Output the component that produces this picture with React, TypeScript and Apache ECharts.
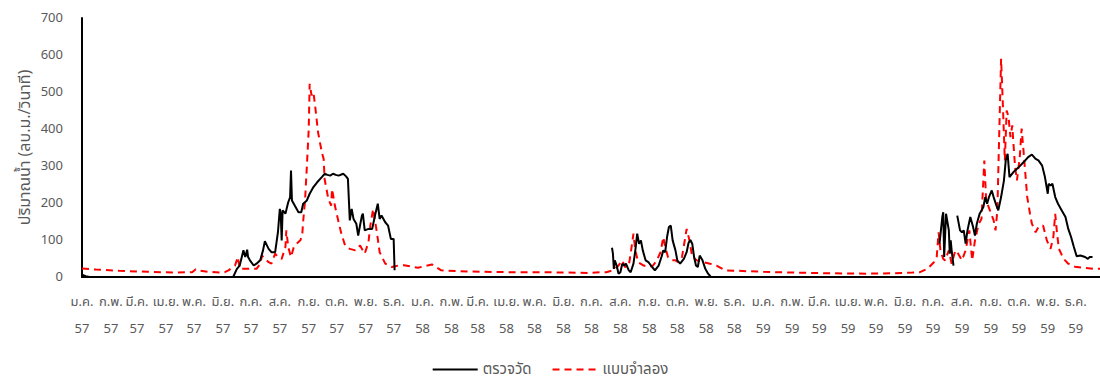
import React, { useEffect, useRef } from "react";
import * as echarts from "echarts";

const thaiMonths = ["ม.ค.", "ก.พ.", "มี.ค.", "เม.ย.", "พ.ค.", "มิ.ย.", "ก.ค.", "ส.ค.", "ก.ย.", "ต.ค.", "พ.ย.", "ธ.ค."];
const yearLabels = ["57", "58", "59"];
const monthLengths57 = [31, 28, 31, 30, 31, 30, 31, 31, 30, 31, 30, 31];
const monthLengths58 = [31, 28, 31, 30, 31, 30, 31, 31, 30, 31, 30, 31];
const monthLengths59 = [31, 29, 31, 30, 31, 30, 31, 31, 30, 31, 30, 31];
const yTicks = [0, 100, 200, 300, 400, 500, 600, 700];

const seriesNames = ["ตรวจวัด", "แบบจำลอง"];
const yAxisName = "ปริมาณน้ำ (ลบ.ม./วินาที)";

// observed flow [day index from 1 Jan 2557, m3/s]
const obsStart57: [number, number][] = [[0, 6], [4, 2], [8, 0]];
const obs57: [number, number][] = [
  [162, 0], [166, 22], [169, 31], [173, 72], [175, 54], [177, 74], [178, 54], [180, 45], [184, 31],
  [187, 36], [191, 45], [194, 72], [196, 97], [200, 76], [203, 67], [207, 67], [210, 121], [212, 184],
  [213, 170], [214, 99], [215, 180], [218, 171], [221, 202], [223, 215], [224, 288], [225, 207],
  [228, 193], [232, 175], [235, 175], [237, 198], [241, 207], [244, 225], [248, 243], [252, 256],
  [257, 270], [260, 279], [263, 276], [266, 274], [269, 279], [272, 276], [275, 274], [278, 277],
  [280, 279], [283, 272], [285, 265], [287, 153], [289, 184], [291, 157], [294, 144], [296, 112],
  [298, 140], [300, 166], [301, 171], [303, 126], [307, 130], [311, 130], [314, 166], [317, 198],
  [319, 157], [321, 166], [325, 148], [328, 139], [331, 103], [334, 103], [335, 18],
];
const obs58: [number, number][] = [
  [568, 79], [569, 63], [570, 22], [571, 45], [573, 31], [575, 9], [577, 13], [579, 36], [581, 31],
  [583, 36], [586, 18], [588, 13], [591, 36], [593, 72], [595, 117], [597, 90], [599, 99], [601, 72],
  [604, 45], [607, 40], [611, 27], [614, 18], [618, 31], [621, 54], [623, 72], [625, 67], [627, 108],
  [629, 135], [631, 139], [633, 99], [636, 72], [638, 45], [641, 36], [645, 49], [648, 67], [650, 92],
  [652, 100], [654, 90], [656, 54], [658, 31], [660, 27], [662, 58], [665, 45], [668, 22], [671, 9],
  [674, 0],
];
const obs59a: [number, number][] = [
  [919, 90], [922, 162], [923, 175], [924, 54], [926, 171], [929, 126], [930, 63], [931, 99],
  [932, 72], [934, 31],
];
const obs59b: [number, number][] = [
  [938, 166], [941, 126], [943, 121], [945, 126], [947, 90], [949, 126], [952, 162], [955, 135],
  [957, 112], [959, 144], [962, 171], [964, 180], [966, 189], [968, 216], [970, 198], [972, 216],
  [975, 234], [977, 216], [980, 193], [982, 180], [985, 216], [988, 260], [990, 315], [992, 333],
  [994, 270], [998, 283], [1004, 297], [1009, 310], [1014, 324], [1018, 331], [1022, 319],
  [1025, 315], [1029, 301], [1032, 270], [1035, 225], [1036, 252], [1038, 247], [1040, 252],
  [1043, 216], [1046, 198], [1050, 180], [1054, 162], [1057, 130], [1060, 108], [1063, 81],
  [1066, 56], [1070, 58], [1075, 54], [1078, 49], [1080, 54], [1083, 54],
];

// simulated flow
const sim57: [number, number][] = [
  [0, 23], [15, 20], [40, 17], [70, 14], [100, 12], [118, 13], [122, 21], [126, 17], [135, 14],
  [150, 12], [153, 13], [157, 18], [164, 31], [167, 54], [169, 22], [175, 22], [182, 22], [187, 22],
  [191, 36], [193, 58], [196, 49], [200, 40], [203, 36], [207, 63], [210, 54], [214, 49], [218, 81],
  [219, 126], [221, 81], [224, 54], [227, 81], [230, 90], [234, 99], [236, 112], [237, 150],
  [239, 205], [241, 300], [243, 400], [244, 522], [246, 491], [248, 500], [250, 459], [253, 391],
  [257, 337], [259, 319], [260, 265], [264, 211], [267, 193], [268, 238], [271, 193], [275, 148],
  [278, 117], [282, 85], [287, 76], [293, 72], [298, 85], [303, 63], [307, 94], [309, 139],
  [312, 184], [316, 121], [319, 67], [325, 36], [332, 27], [339, 31], [345, 32], [360, 25],
];
const sim58: [number, number][] = [
  [375, 34], [385, 18], [400, 16], [430, 14], [460, 13], [490, 13], [520, 12], [545, 11], [555, 13],
  [562, 13], [570, 19], [575, 31], [579, 45], [582, 27], [586, 31], [589, 81], [591, 117], [593, 72],
  [596, 40], [602, 31], [607, 27], [612, 31], [616, 45], [620, 67], [623, 108], [625, 81], [628, 54],
  [632, 45], [636, 45], [639, 40], [643, 54], [646, 99], [648, 130], [651, 99], [654, 54], [659, 45],
  [666, 40], [673, 36], [680, 31], [689, 18], [700, 17],
];
const sim59: [number, number][] = [
  [730, 14], [760, 12], [800, 10], [840, 9], [870, 10], [890, 12], [898, 13], [906, 22], [913, 40],
  [916, 54], [918, 121], [920, 72], [923, 49], [925, 45], [929, 72], [932, 36], [936, 72], [939, 63],
  [943, 45], [947, 72], [951, 126], [954, 45], [957, 99], [961, 144], [964, 157], [967, 315],
  [969, 207], [973, 180], [977, 153], [979, 126], [981, 180], [983, 387], [985, 590], [987, 459],
  [988, 387], [989, 315], [991, 450], [993, 432], [995, 378], [997, 410], [998, 369], [1000, 297],
  [1002, 261], [1005, 324], [1007, 401], [1009, 342], [1011, 279], [1013, 216], [1016, 171],
  [1018, 144], [1022, 121], [1025, 135], [1030, 139], [1034, 99], [1038, 76], [1041, 108],
  [1043, 171], [1045, 117], [1047, 76], [1052, 49], [1057, 36], [1064, 28], [1073, 25], [1084, 22],
  [1091, 22],
];

const FONT = "Tahoma, 'Leelawadee UI', 'Noto Sans Thai', 'Noto Sans', sans-serif";
const GRAY = "#595959";

export default function App() {
  const ref = useRef<HTMLDivElement>(null);

  useEffect(() => {
    if (!ref.current) return;
    const chart = echarts.init(ref.current, undefined, { renderer: "svg" });

    const monthStarts: number[] = [];
    const labelMap: Record<number, string> = {};
    let day = 0;
    [monthLengths57, monthLengths58, monthLengths59].forEach((lens, yi) => {
      lens.forEach((len, mi) => {
        monthStarts.push(day);
        labelMap[day] = thaiMonths[mi] + "\n" + yearLabels[yi];
        day += len;
      });
    });

    const gap = (d: number) => [d, null] as any;
    const obsData = [
      ...obsStart57, gap(9),
      ...obs57, gap(336),
      ...obs58, gap(675),
      ...obs59a, gap(935),
      ...obs59b,
    ];
    const simData = [...sim57, ...sim58, ...sim59];

    chart.setOption({
      animation: false,
      textStyle: { fontFamily: FONT },
      grid: { left: 82, right: 0, top: 18, bottom: 106, containLabel: false },
      legend: {
        top: 357,
        left: "center",
        itemWidth: 45,
        itemHeight: 14,
        itemGap: 20,
        itemStyle: { opacity: 0 },
        textStyle: { color: GRAY, fontSize: 15, fontFamily: FONT },
        data: seriesNames,
      },
      xAxis: {
        type: "value",
        min: 0,
        max: 1091,
        splitLine: { show: false },
        axisTick: { show: false },
        axisLine: { show: true, onZero: false, lineStyle: { color: "#000", width: 2 } },
        axisLabel: {
          customValues: monthStarts,
          formatter: (v: number) => labelMap[v] ?? "",
          color: GRAY,
          fontSize: 13,
          lineHeight: 27,
          margin: 11,
          fontFamily: FONT,
          showMinLabel: true,
          showMaxLabel: true,
        },
      },
      yAxis: {
        type: "value",
        min: yTicks[0],
        max: yTicks[yTicks.length - 1],
        interval: 100,
        name: yAxisName,
        nameLocation: "middle",
        nameGap: 49,
        nameRotate: 90,
        nameMoveOverlap: false,
        nameTextStyle: { color: GRAY, fontSize: 16, fontFamily: FONT },
        splitLine: { show: false },
        axisTick: { show: false },
        axisLine: { show: true, lineStyle: { color: "#000", width: 2 } },
        axisLabel: { color: GRAY, fontSize: 13, margin: 19, fontFamily: FONT },
      },
      series: [
        {
          name: seriesNames[0],
          type: "line",
          data: obsData,
          symbol: "none",
          connectNulls: false,
          lineStyle: { color: "#000", width: 2 },
          itemStyle: { color: "#000" },
          z: 3,
        },
        {
          name: seriesNames[1],
          type: "line",
          data: simData,
          symbol: "none",
          lineStyle: { color: "#ff0000", width: 2, type: [7, 5] },
          itemStyle: { color: "#ff0000" },
          z: 2,
        },
      ],
    });

    return () => chart.dispose();
  }, []);

  return <div ref={ref} style={{ position: "absolute", left: 0, top: 0, width: 1100, height: 383 }} />;
}
